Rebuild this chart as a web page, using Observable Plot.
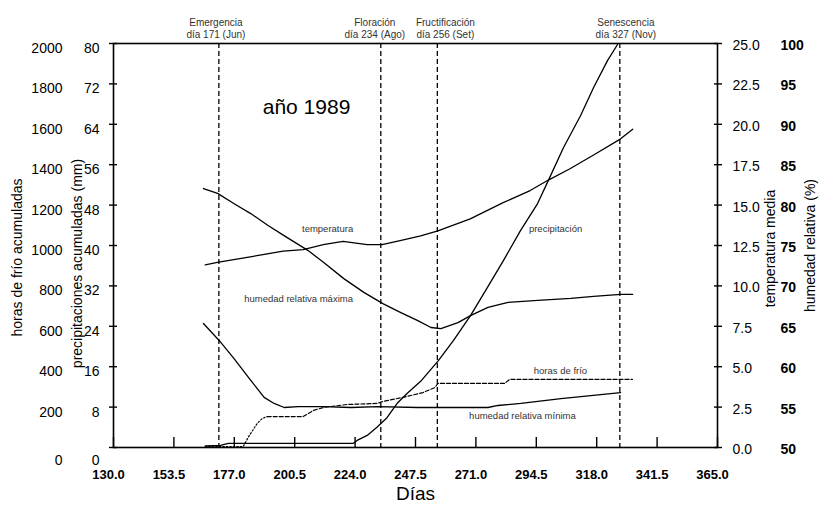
<!DOCTYPE html>
<html><head><meta charset="utf-8">
<script src="https://cdn.jsdelivr.net/npm/d3@7"></script>
<script src="https://cdn.jsdelivr.net/npm/@observablehq/plot@0.6"></script>
<style>body{margin:0;background:#fff} svg{display:block}</style>
</head><body><div id="chart"></div>
<script>
// ---- data ----
const stageDays = [171, 234, 256, 327];
const stageNames = ["Emergencia", "Floración", "Fructificación", "Senescencia"];
const stageDates = ["día 171 (Jun)", "día 234 (Ago)", "día 256 (Set)", "día 327 (Nov)"];

const xTicks = [130, 153.5, 177, 200.5, 224, 247.5, 271, 294.5, 318, 341.5, 365];
const precipTicks = [0, 8, 16, 24, 32, 40, 48, 56, 64, 72, 80];
const hourTicks = [0, 200, 400, 600, 800, 1000, 1200, 1400, 1600, 1800, 2000];
const tempTicks = ["0.0", "2.5", "5.0", "7.5", "10.0", "12.5", "15.0", "17.5", "20.0", "22.5", "25.0"];
const humTicks = [50, 55, 60, 65, 70, 75, 80, 85, 90, 95, 100];

// [día, °C]
const temperatura = [[165.7,11.3],[170.4,11.45],[183.2,11.8],[196.0,12.15],[203.8,12.25],[211.6,12.55],[219.3,12.75],[228.7,12.55],[234.5,12.55],[241.5,12.8],[249.5,13.1],[256.2,13.4],[268.8,14.15],[281.6,15.15],[292.1,15.9],[299.2,16.55],[307.6,17.25],[316.8,18.1],[327.3,19.1],[332.0,19.7]];
// [día, %]
const humMax = [[165.0,82.05],[170.5,81.45],[176.8,80.2],[183.4,78.95],[190.0,77.5],[196.2,76.25],[205.6,74.4],[211.8,72.9],[219.6,70.9],[227.4,69.2],[234.8,67.8],[241.8,66.7],[248.4,65.7],[253.5,64.85],[257.4,64.7],[264.0,65.45],[269.1,66.35],[275.7,67.35],[283.5,67.95],[295.1,68.2],[307.9,68.45],[316.8,68.7],[327.3,68.95],[332.0,68.95]];
const humMin = [[165.0,65.35],[171.1,63.25],[176.9,61.0],[182.8,58.55],[188.6,56.2],[192.5,55.45],[196.4,54.95],[201.8,55.05],[211.8,55.05],[222.4,54.95],[232.9,55.05],[248.4,54.95],[257.4,54.95],[275.7,54.95],[279.6,55.2],[288.5,55.45],[304.1,56.05],[327.3,56.8]];
// [día, mm]
const precipitacion = [[165.7,0.3],[171.6,0.4],[174.7,0.8],[223.2,0.8],[224.8,1.4],[228.7,2.4],[232.5,4.0],[236.4,5.9],[240.3,8.7],[244.2,10.7],[249.5,13.1],[256.4,17.2],[262.3,21.2],[268.9,26.1],[275.5,31.7],[281.7,37.0],[288.4,43.0],[295.0,48.3],[299.2,52.9],[305.1,59.4],[311.7,65.7],[316.8,71.3],[322.2,76.6],[326.1,79.8]];
// [día, horas]
const horasFrio = [[165.7,5],[180.5,5],[182.4,50],[185.9,119],[187.9,144],[189.8,153],[203.8,153],[207.7,183],[211.6,198],[220.9,213],[232.5,218],[234.9,228],[242.6,248],[250.4,272],[255.1,297],[256.2,317],[282.2,317],[284.1,337],[331.9,337]];

// annotation anchors in (día, mm of the base scale)
const curveLabels = [
  {text: "temperatura", day: 213.3, mm: 43.2},
  {text: "humedad relativa máxima", day: 202.0, mm: 29.5},
  {text: "precipitación", day: 302.0, mm: 43.2},
  {text: "horas de frío", day: 303.9, mm: 15.2},
  {text: "humedad relativa mínima", day: 289.1, mm: 6.3}
];
const yearLabel = [{text: "año 1989", day: 205.1, mm: 67.3}];

// ---- conversions to base (mm) scale ----
const conv = {
  mm: v => v,
  hours: v => v / 25,
  temp: v => v * 3.2,
  hum: v => (v - 50) * 1.6
};
const series = (arr, f) => arr.map(([d, v]) => ({day: d, y: f(v)}));

const font = "'Liberation Sans', Arial, Helvetica, sans-serif";
const lineW = 1.3;
const hf = series(horasFrio, conv.hours);
const stageDx = [-3, -6, 8, 6];
const noText = () => "";

const chart = Plot.plot({
  width: 822, height: 505,
  marginLeft: 113, marginRight: 105, marginTop: 43, marginBottom: 58,
  style: {fontFamily: font, background: "white", color: "black", overflow: "visible"},
  x: {domain: [130, 365], axis: null},
  y: {domain: [0, 80], axis: null},
  marks: [
    Plot.ruleX(stageDays, {stroke: "black", strokeWidth: 1.3, strokeDasharray: "5,3"}),
    Plot.line(series(temperatura, conv.temp), {x: "day", y: "y", stroke: "black", strokeWidth: lineW}),
    Plot.line(series(humMax, conv.hum), {x: "day", y: "y", stroke: "black", strokeWidth: lineW}),
    Plot.line(series(humMin, conv.hum), {x: "day", y: "y", stroke: "black", strokeWidth: lineW}),
    Plot.line(series(precipitacion, conv.mm), {x: "day", y: "y", stroke: "black", strokeWidth: lineW}),
    Plot.line(hf.filter(d => d.day <= 189.8), {x: "day", y: "y", stroke: "black", strokeWidth: 1.2, strokeDasharray: "1.5,2"}),
    Plot.line(hf.filter(d => d.day >= 189.8), {x: "day", y: "y", stroke: "black", strokeWidth: 1.2, strokeDasharray: "4,2"}),
    Plot.frame({stroke: "black", strokeWidth: 1.6}),
    // ticks
    Plot.axisY(precipTicks, {anchor: "left", tickSize: 8, dx: 4, strokeWidth: 1.4, tickFormat: noText, label: null}),
    Plot.axisY(precipTicks, {anchor: "right", tickSize: 8, dx: -4, strokeWidth: 1.4, tickFormat: noText, label: null}),
    Plot.axisX(xTicks, {anchor: "bottom", tickSize: 10, dy: -10, strokeWidth: 1.4, tickFormat: noText, label: null}),
    // left tick labels
    Plot.axisY(precipTicks.filter(d => d > 0), {anchor: "left", tickSize: 0, tickPadding: 14, fontSize: 14, dy: 5, label: null,
      tickFormat: d => String(d)}),
    Plot.axisY([0], {anchor: "left", tickSize: 0, tickPadding: 14, fontSize: 14, dy: 13, label: null,
      tickFormat: d => String(d)}),
    Plot.axisY(precipTicks.filter(d => d > 0), {anchor: "left", tickSize: 0, tickPadding: 51, fontSize: 14, dy: 5, label: null,
      tickFormat: d => String(hourTicks[precipTicks.indexOf(d)])}),
    Plot.axisY([0], {anchor: "left", tickSize: 0, tickPadding: 51, fontSize: 14, dy: 13, label: null,
      tickFormat: d => String(hourTicks[precipTicks.indexOf(d)])}),
    // right tick labels
    Plot.axisY(precipTicks, {anchor: "right", tickSize: 0, tickPadding: 15, fontSize: 14, dy: 2, label: null,
      tickFormat: d => tempTicks[precipTicks.indexOf(d)]}),
    Plot.axisY(precipTicks, {anchor: "right", tickSize: 0, tickPadding: 63, fontSize: 14, dy: 2, fontWeight: "bold", label: null,
      tickFormat: d => String(humTicks[precipTicks.indexOf(d)])}),
    // x tick labels
    Plot.axisX(xTicks, {anchor: "bottom", tickSize: 0, tickPadding: 22, fontSize: 13, dx: -5, fontWeight: "bold", label: null,
      tickFormat: d => d.toFixed(1)}),
    // axis titles
    Plot.text(["Días"], {frameAnchor: "bottom", dy: 52, fontSize: 19}),
    Plot.text(["horas de frío acumuladas"], {frameAnchor: "left", textAnchor: "middle", rotate: -90, dx: -96, dy: 12, fontSize: 14}),
    Plot.text(["precipitaciones acumuladas (mm)"], {frameAnchor: "left", textAnchor: "middle", rotate: -90, dx: -36, dy: 18, fontSize: 14}),
    Plot.text(["temperatura media"], {frameAnchor: "right", textAnchor: "middle", rotate: -90, dx: 53, dy: 3, fontSize: 14}),
    Plot.text(["humedad relativa (%)"], {frameAnchor: "right", textAnchor: "middle", rotate: -90, dx: 93, dy: 0, fontSize: 14}),
    // stage annotations
    ...stageDays.map((d, i) => Plot.text([d], {x: v => v, frameAnchor: "top", text: () => stageNames[i] + "\n" + stageDates[i],
      lineAnchor: "bottom", lineHeight: 1.2, dy: -6, dx: stageDx[i], fontSize: 10, fill: "#333"})),
    // curve labels
    Plot.text(curveLabels, {x: "day", y: "mm", text: "text", fontSize: 9.5, fill: "#333"}),
    Plot.text(yearLabel, {x: "day", y: "mm", text: "text", fontSize: 21})
  ]
});
document.getElementById("chart").append(chart);
</script>
</body></html>
